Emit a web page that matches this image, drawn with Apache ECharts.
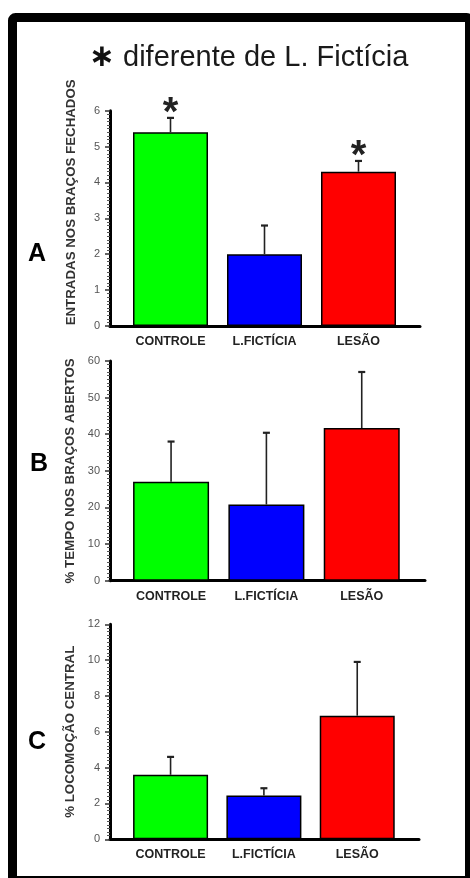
<!DOCTYPE html>
<html>
<head>
<meta charset="utf-8">
<script src="https://cdn.jsdelivr.net/npm/echarts@6/dist/echarts.min.js"></script>
<style>
  html, body { margin: 0; padding: 0; background: #fff; }
  #main { width: 470px; height: 878px; }
</style>
</head>
<body>
<div id="main"></div>
<script>
// dados
const categories = ['CONTROLE', 'L.FICTÍCIA', 'LESÃO'];
const barColors = ['#00ff00', '#0000ff', '#ff0000'];

// A - entradas nos braços fechados
const meanA = [5.4, 2.0, 4.3];
const errA = [0.4, 0.8, 0.3];
const sigA = ['*', '', '*'];
const yMaxA = 6, stepA = 1;

// B - % tempo nos braços abertos
const meanB = [27, 20.8, 41.7];
const errB = [11, 19.6, 15.3];
const sigB = ['', '', ''];
const yMaxB = 60, stepB = 10;

// C - % locomoção central
const meanC = [3.6, 2.45, 6.9];
const errC = [1.0, 0.4, 3.0];
const sigC = ['', '', ''];
const yMaxC = 12, stepC = 2;

const font = 'Liberation Sans, Arial, sans-serif';
const chart = echarts.init(document.getElementById('main'));

const panels = [
  { mean: meanA, err: errA, sig: sigA, max: yMaxA, step: stepA, name: 'ENTRADAS NOS BRAÇOS FECHADOS',
    top: 110.7, height: 215.3, axisRight: 420, barLeft: 123.5, barWidth: 282, bw: 75, namePad: [0, 0, 0, 32] },
  { mean: meanB, err: errB, sig: sigB, max: yMaxB, step: stepB, name: '% TEMPO NOS BRAÇOS ABERTOS',
    top: 361, height: 219.7, axisRight: 425, barLeft: 123.4, barWidth: 286, bw: 76, namePad: 0 },
  { mean: meanC, err: errC, sig: sigC, max: yMaxC, step: stepC, name: '% LOCOMOÇÃO CENTRAL',
    top: 624.3, height: 215, axisRight: 419, barLeft: 123.9, barWidth: 280, bw: 75, namePad: 0 }
];

function makeErr(sig) {
  return function (params, api) {
    const x = api.value(0);
    const base = api.coord([x, api.value(1)]);
    const top = api.coord([x, api.value(1) + api.value(2)]);
    const kids = [
      { type: 'line', shape: { x1: base[0], y1: base[1], x2: top[0], y2: top[1] },
        style: { stroke: '#222', lineWidth: 1.6 } },
      { type: 'line', shape: { x1: top[0] - 3.5, y1: top[1], x2: top[0] + 3.5, y2: top[1] },
        style: { stroke: '#222', lineWidth: 2.2 } }
    ];
    if (sig[params.dataIndex]) {
      kids.push({ type: 'text', x: top[0], y: top[1] + 16,
        style: { text: sig[params.dataIndex], font: 'bold 40px ' + font, fill: '#222',
          align: 'center', verticalAlign: 'bottom' } });
    }
    return { type: 'group', children: kids };
  };
}

const grid = [], xAxis = [], yAxis = [], series = [];
panels.forEach(function (p, k) {
  // eixo (linhas)
  grid.push({ left: 110, width: p.axisRight - 110, top: p.top, height: p.height });
  // barras
  grid.push({ left: p.barLeft, width: p.barWidth, top: p.top, height: p.height });
  xAxis.push({
    gridIndex: 2 * k, type: 'value', min: 0, max: 1,
    axisLine: { show: true, lineStyle: { color: '#000', width: 3 } },
    axisTick: { show: false }, axisLabel: { show: false }, splitLine: { show: false }
  });
  xAxis.push({
    gridIndex: 2 * k + 1, type: 'category', data: categories,
    axisLine: { show: false }, axisTick: { show: false },
    axisLabel: { margin: 9, fontFamily: font, fontWeight: 'bold', fontSize: 12.5, color: '#222' }
  });
  yAxis.push({
    gridIndex: 2 * k, type: 'value', min: 0, max: p.max, interval: p.step,
    name: p.name, nameLocation: 'middle', nameGap: 32, nameRotate: 90,
    nameTextStyle: { fontFamily: font, fontWeight: 'bold', fontSize: 13.3, color: '#333', padding: p.namePad },
    axisLine: { show: true, lineStyle: { color: '#000', width: 3 } },
    axisTick: { show: true, length: 5, lineStyle: { color: '#333', width: 1.5 } },
    minorTick: { show: true, splitNumber: 10, length: 3, lineStyle: { color: '#555', width: 1 } },
    axisLabel: { margin: 10, fontFamily: font, fontSize: 11, color: '#555' },
    splitLine: { show: false }
  });
  yAxis.push({
    gridIndex: 2 * k + 1, type: 'value', min: 0, max: p.max, show: false
  });
  series.push({
    type: 'bar', xAxisIndex: 2 * k + 1, yAxisIndex: 2 * k + 1, barWidth: p.bw,
    itemStyle: { borderColor: '#000', borderWidth: 1.5 },
    data: p.mean.map(function (v, i) { return { value: v, itemStyle: { color: barColors[i] } }; })
  });
  series.push({
    type: 'custom', xAxisIndex: 2 * k + 1, yAxisIndex: 2 * k + 1, clip: false, z: 3,
    renderItem: makeErr(p.sig),
    data: p.mean.map(function (v, i) { return [i, v, p.err[i]]; })
  });
});

chart.setOption({
  animation: false,
  backgroundColor: '#fff',
  title: [
    { text: '{s|∗}{t| diferente de L. Fictícia}', left: 84, top: 37,
      textStyle: { fontWeight: 'normal', rich: {
        s: { fontFamily: 'DejaVu Sans', fontWeight: 'bold', fontSize: 31, color: '#111' },
        t: { fontFamily: font, fontWeight: 'normal', fontSize: 29, color: '#1a1a1a' } } } },
    { text: 'A', left: 23, top: 237, textStyle: { fontFamily: font, fontWeight: 'bold', fontSize: 25, color: '#000' } },
    { text: 'B', left: 25, top: 447, textStyle: { fontFamily: font, fontWeight: 'bold', fontSize: 25, color: '#000' } },
    { text: 'C', left: 23, top: 725, textStyle: { fontFamily: font, fontWeight: 'bold', fontSize: 25, color: '#000' } }
  ],
  graphic: [
    { type: 'rect', shape: { x: 12.5, y: 17.5, width: 457, height: 863, r: 3 },
      style: { fill: 'none', stroke: '#000', lineWidth: 9 }, silent: true }
  ],
  grid: grid,
  xAxis: xAxis,
  yAxis: yAxis,
  series: series
});
</script>
</body>
</html>
